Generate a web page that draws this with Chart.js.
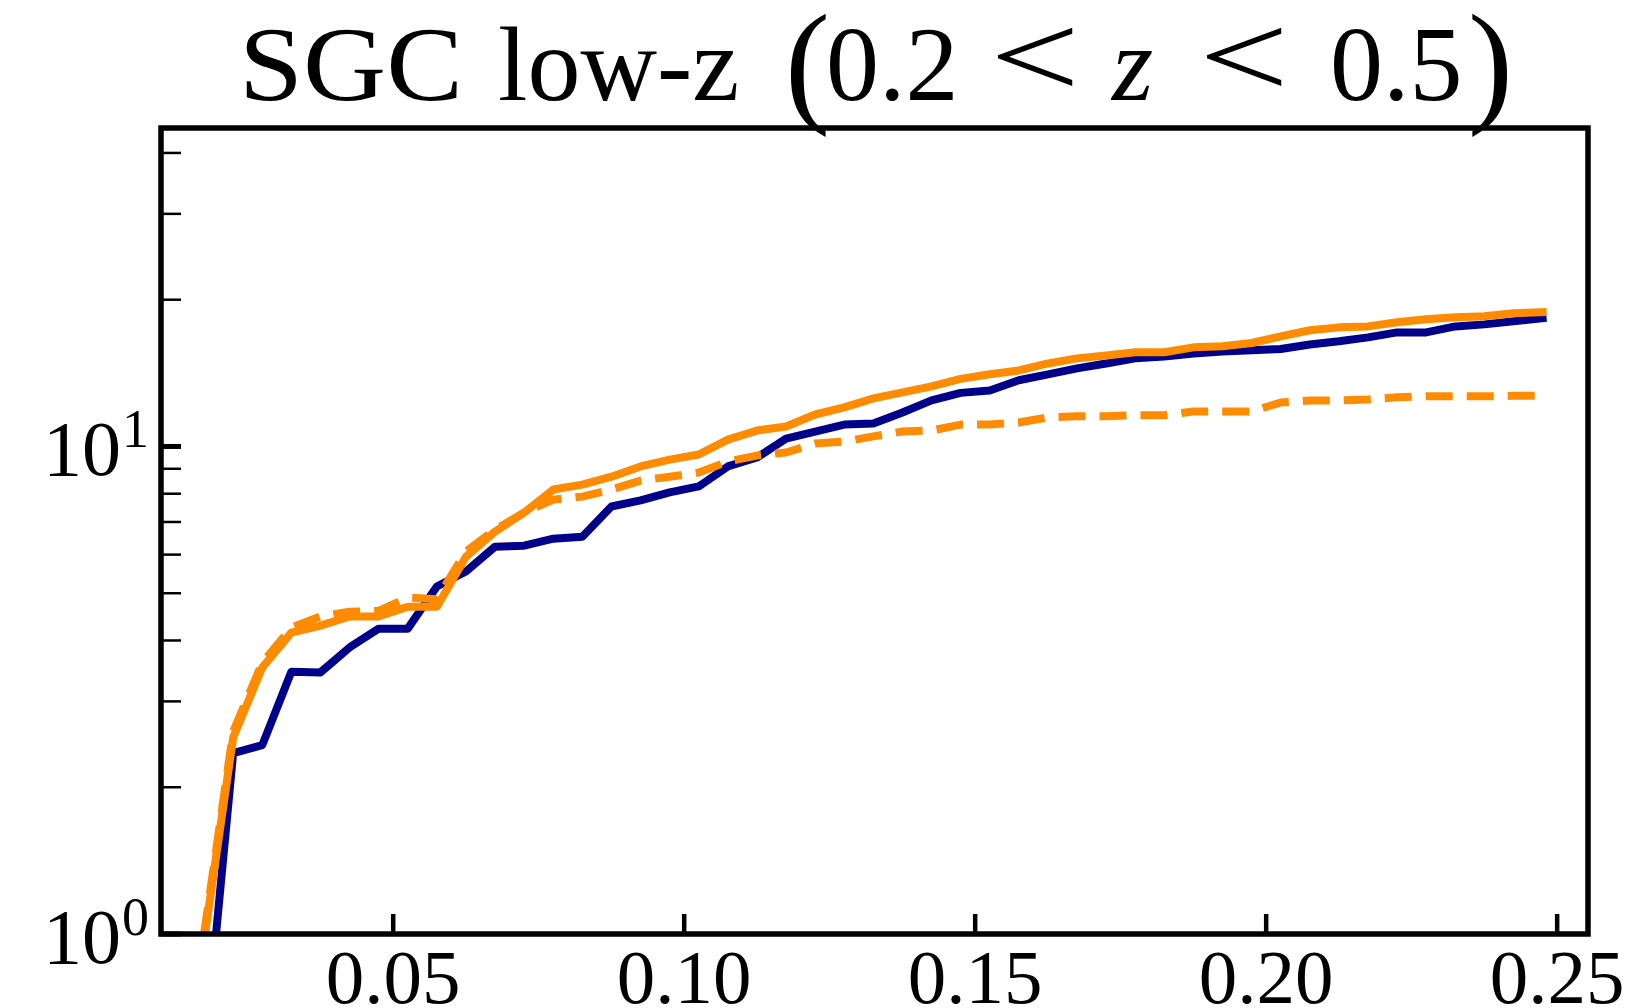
<!DOCTYPE html>
<html>
<head>
<meta charset="utf-8">
<title>SGC low-z (0.2 &lt; z &lt; 0.5)</title>
<script src="https://cdn.jsdelivr.net/npm/chart.js@4.4.1/dist/chart.umd.min.js"></script>
<style>
  html, body { margin: 0; padding: 0; background: #fff; }
  #wrap { width: 1640px; height: 1008px; }
</style>
</head>
<body>
<div id="wrap"><canvas id="chart" width="1640" height="1008"></canvas></div>
<script>
/* SGC low-z panel: three cumulative curves on a log y axis */

// ---- data ----
const kBins = [
  0.0175, 0.0225, 0.0275, 0.0325, 0.0375, 0.0425, 0.0475, 0.0525, 0.0575, 0.0625,
  0.0675, 0.0725, 0.0775, 0.0825, 0.0875, 0.0925, 0.0975, 0.1025, 0.1075, 0.1125,
  0.1175, 0.1225, 0.1275, 0.1325, 0.1375, 0.1425, 0.1475, 0.1525, 0.1575, 0.1625,
  0.1675, 0.1725, 0.1775, 0.1825, 0.1875, 0.1925, 0.1975, 0.2025, 0.2075, 0.2125,
  0.2175, 0.2225, 0.2275, 0.2325, 0.2375, 0.2425, 0.2475
];
const navySolid = [
  0.55, 2.35, 2.44, 3.45, 3.44, 3.87, 4.23, 4.23, 5.16, 5.54,
  6.23, 6.26, 6.47, 6.53, 7.53, 7.75, 8.05, 8.28, 9.10, 9.49,
  10.38, 10.73, 11.09, 11.14, 11.74, 12.43, 12.88, 13.03, 13.67, 14.06,
  14.46, 14.80, 15.16, 15.30, 15.52, 15.66, 15.75, 15.85, 16.19, 16.43,
  16.74, 17.14, 17.14, 17.63, 17.80, 18.06, 18.32
];
const orangeSolid = [
  0.97, 2.53, 3.52, 4.15, 4.29, 4.48, 4.48, 4.69, 4.69, 5.94,
  6.69, 7.32, 8.16, 8.35, 8.67, 9.10, 9.40, 9.63, 10.33, 10.78,
  10.99, 11.63, 12.03, 12.55, 12.91, 13.28, 13.76, 14.06, 14.32, 14.80,
  15.16, 15.37, 15.60, 15.60, 15.97, 16.05, 16.30, 16.82, 17.31, 17.55,
  17.63, 17.98, 18.23, 18.40, 18.49, 18.76, 18.85
];
const orangeDashed = [
  1.00, 2.60, 3.60, 4.25, 4.48, 4.58, 4.60, 4.90, 4.86, 6.09,
  6.75, 7.32, 7.78, 7.89, 8.16, 8.51, 8.67, 8.84, 9.31, 9.58,
  9.72, 10.14, 10.23, 10.49, 10.73, 10.78, 11.09, 11.09, 11.20, 11.47,
  11.53, 11.53, 11.59, 11.59, 11.80, 11.80, 11.80, 12.31, 12.43, 12.43,
  12.49, 12.61, 12.67, 12.67, 12.67, 12.70, 12.70
];
const xTicks = [0.05, 0.10, 0.15, 0.20, 0.25];
const yTicks = [1, 2, 3, 4, 5, 6, 7, 8, 9, 10, 20, 30, 40];
const yLabelled = [1, 10];

// ---- style ----
const SERIF = "'Liberation Serif', 'DejaVu Serif', serif";
const NAVY = "#00008b";
const ORANGE = "#ff8c00";
const LW = 8;
const TICK_LEN = 20;

const pts = (ys) => kBins.map((x, i) => ({ x: x, y: ys[i] }));

// title pieces: text, left x, baseline, font, optional advance width to stretch to
const titleParts = [
  { t: "SGC", x: 239, b: 100, f: "106px " + SERIF, w: 224 },
  { t: "low-z", x: 498, b: 100, f: "106px " + SERIF },
  { t: "(", x: 785, b: 108, f: "135px " + SERIF },
  { t: "0.2", x: 826, b: 100, f: "106px " + SERIF },
  { t: "<", x: 990, b: 97, f: "120px " + SERIF, w: 90 },
  { t: "z", x: 1112, b: 100, f: "italic 106px " + SERIF },
  { t: "<", x: 1199, b: 97, f: "120px " + SERIF, w: 90 },
  { t: "0.5", x: 1330, b: 100, f: "106px " + SERIF },
  { t: ")", x: 1468, b: 108, f: "135px " + SERIF },
];

const titlePlugin = {
  id: "mixedTitle",
  afterDraw(chart) {
    const ctx = chart.ctx;
    ctx.fillStyle = "#000";
    titleParts.forEach((p) => {
      ctx.save();
      ctx.font = p.f;
      ctx.textAlign = "left";
      ctx.textBaseline = "alphabetic";
      const sx = p.w ? p.w / ctx.measureText(p.t).width : 1;
      ctx.translate(p.x, p.b);
      ctx.scale(sx, 1);
      ctx.fillText(p.t, 0, 0);
      ctx.restore();
    });
  },
};

// inward ticks, frame and 10^n labels
const framePlugin = {
  id: "frameTicks",
  afterDatasetsDraw(chart) {
    const { ctx, chartArea: a, scales } = chart;
    const x = scales.x, y = scales.y;
    ctx.save();
    ctx.strokeStyle = "#000";
    ctx.lineCap = "butt";
    ctx.lineWidth = 4.5;
    x.ticks.forEach((t) => {
      const px = x.getPixelForValue(t.value);
      ctx.beginPath();
      ctx.moveTo(px, a.bottom);
      ctx.lineTo(px, a.bottom - TICK_LEN);
      ctx.stroke();
    });
    y.ticks.forEach((t) => {
      const py = y.getPixelForValue(t.value);
      const major = Number.isInteger(Math.log10(t.value));
      ctx.lineWidth = major ? 5 : 2.5;
      ctx.beginPath();
      ctx.moveTo(a.left, py);
      ctx.lineTo(a.left + TICK_LEN, py);
      ctx.stroke();
    });
    ctx.lineWidth = 5.5;
    ctx.strokeRect(a.left, a.top, a.right - a.left, a.bottom - a.top);

    ctx.fillStyle = "#000";
    ctx.textBaseline = "alphabetic";
    yLabelled.forEach((v) => {
      const py = y.getPixelForValue(v);
      ctx.font = "78px " + SERIF;
      ctx.textAlign = "right";
      ctx.fillText("10", 121, py + 29);
      ctx.font = "54px " + SERIF;
      ctx.textAlign = "left";
      ctx.fillText(String(Math.round(Math.log10(v))), 122, py + 1);
    });
    ctx.restore();
  },
};

new Chart(document.getElementById("chart"), {
  type: "line",
  data: {
    datasets: [
      { data: pts(navySolid), borderColor: NAVY, borderWidth: LW, order: 3,
        borderCapStyle: "square", borderJoinStyle: "round" },
      { data: pts(orangeSolid), borderColor: ORANGE, borderWidth: LW, order: 2,
        borderCapStyle: "square", borderJoinStyle: "round" },
      { data: pts(orangeDashed), borderColor: ORANGE, borderWidth: LW, order: 1,
        borderDash: [27, 14], borderCapStyle: "butt", borderJoinStyle: "round" },
    ],
  },
  options: {
    responsive: false,
    animation: false,
    devicePixelRatio: 1,
    layout: { padding: { left: 0, top: 128, right: 52, bottom: 0 } },
    elements: { point: { radius: 0, hoverRadius: 0 }, line: { tension: 0, fill: false } },
    datasets: { line: { clip: 0 } },
    plugins: { legend: { display: false }, tooltip: { enabled: false }, title: { display: false } },
    events: [],
    scales: {
      x: {
        type: "linear",
        min: 0.0101,
        max: 0.2553,
        grid: { display: false, drawTicks: false },
        border: { display: false },
        afterBuildTicks: (s) => { s.ticks = xTicks.map((v) => ({ value: v })); },
        afterFit: (s) => { s.height = 74; },
        ticks: {
          autoSkip: false,
          maxRotation: 0,
          minRotation: 0,
          padding: 3,
          color: "#000",
          font: { family: SERIF, size: 77 },
          callback: (v) => Number(v).toFixed(2),
        },
      },
      y: {
        type: "logarithmic",
        min: 1,
        max: 45,
        grid: { display: false, drawTicks: false },
        border: { display: false },
        afterBuildTicks: (s) => { s.ticks = yTicks.map((v) => ({ value: v })); },
        afterFit: (s) => { s.width = 161; },
        ticks: { display: false },
      },
    },
  },
  plugins: [titlePlugin, framePlugin],
});
</script>
</body>
</html>
